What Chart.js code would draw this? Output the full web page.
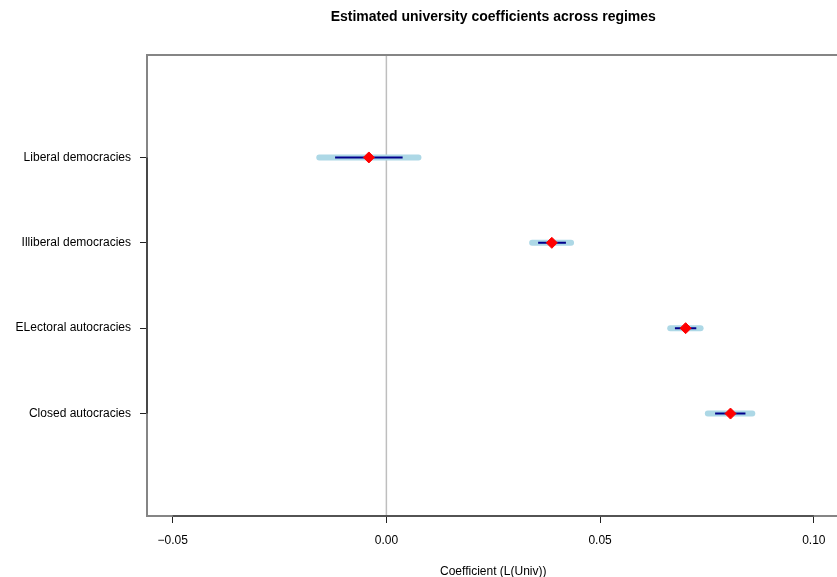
<!DOCTYPE html>
<html>
<head>
<meta charset="utf-8">
<title>Estimated university coefficients across regimes</title>
<script src="https://cdn.jsdelivr.net/npm/chart.js@4.4.1/dist/chart.umd.min.js"></script>
<style>
  html, body { margin: 0; padding: 0; background: #fff; overflow: hidden; }
  canvas { display: block; }
</style>
</head>
<body>
<canvas id="coefChart" width="846" height="577"></canvas>
<script>
// Regimes listed top to bottom
const regimes = ['Liberal democracies', 'Illiberal democracies', 'ELectoral autocracies', 'Closed autocracies'];
const estimates = [-0.0041, 0.0387, 0.0700, 0.0805];
// wide interval (light band) and narrow interval (dark line)
const wideLow = [-0.0157, 0.0341, 0.0664, 0.0752];
const wideHigh = [0.0075, 0.0432, 0.0735, 0.0856];
const narrowLow = [-0.0120, 0.0355, 0.0675, 0.0769];
const narrowHigh = [0.0038, 0.0420, 0.0725, 0.0840];
const xTicks = [-0.05, 0, 0.05, 0.10];

const FONT = '"Liberation Sans", Arial, Helvetica, sans-serif';
const rowPos = regimes.map((r, i) => regimes.length - i);

// order: lower value is drawn on top
const intervalSet = (lo, hi, color, width, cap, order) => regimes.map((r, i) => ({
    data: [{ x: lo[i], y: rowPos[i] }, { x: hi[i], y: rowPos[i] }],
    showLine: true,
    borderColor: color,
    borderWidth: width,
    borderCapStyle: cap,
    pointRadius: 0,
    order: order
}));

// grey box, zero line, axis lines and main title
const frame = {
    id: 'frame',
    beforeDatasetsDraw(chart) {
        const { ctx, chartArea: a, scales: { x, y } } = chart;
        ctx.save();
        const x0 = x.getPixelForValue(0);
        ctx.strokeStyle = '#bebebe';
        ctx.lineWidth = 1.5;
        ctx.beginPath();
        ctx.moveTo(x0, a.top);
        ctx.lineTo(x0, a.bottom);
        ctx.stroke();

        ctx.strokeStyle = '#858585';
        ctx.lineWidth = 2;
        ctx.beginPath();
        ctx.moveTo(a.right + 2, a.top);
        ctx.lineTo(a.left, a.top);
        ctx.lineTo(a.left, a.bottom);
        ctx.lineTo(a.right + 2, a.bottom);
        ctx.stroke();

        ctx.strokeStyle = '#222';
        ctx.lineWidth = 1.2;
        ctx.beginPath();
        ctx.moveTo(x.getPixelForValue(xTicks[0]), a.bottom);
        ctx.lineTo(x.getPixelForValue(xTicks[xTicks.length - 1]), a.bottom);
        ctx.moveTo(a.left, y.getPixelForValue(rowPos[0]));
        ctx.lineTo(a.left, y.getPixelForValue(rowPos[rowPos.length - 1]));
        ctx.stroke();
        ctx.restore();
    },
    afterDraw(chart) {
        const { ctx, chartArea: a } = chart;
        ctx.save();
        ctx.fillStyle = '#000';
        ctx.font = 'bold 14px ' + FONT;
        ctx.textAlign = 'center';
        ctx.textBaseline = 'middle';
        ctx.fillText('Estimated university coefficients across regimes', (a.left + a.right) / 2, 17);
        ctx.restore();
    }
};

new Chart(document.getElementById('coefChart').getContext('2d'), {
    type: 'scatter',
    data: {
        datasets: [
            {
                data: estimates.map((v, i) => ({ x: v, y: rowPos[i] })),
                pointStyle: 'rectRot',
                pointRadius: 5.5,
                pointBackgroundColor: '#ff0000',
                pointBorderColor: '#ff0000',
                pointBorderWidth: 1,
                order: 0
            },
            ...intervalSet(narrowLow, narrowHigh, '#00008b', 2, 'butt', 1),
            ...intervalSet(wideLow, wideHigh, '#add8e6', 6, 'round', 2)
        ]
    },
    options: {
        responsive: false,
        animation: false,
        devicePixelRatio: 1,
        layout: { padding: { top: 55, right: 2, bottom: 0, left: 0 } },
        plugins: { legend: { display: false }, tooltip: { enabled: false } },
        scales: {
            x: {
                type: 'linear',
                min: -0.056,
                max: 0.106,
                afterFit: s => { s.height = 61; },
                afterBuildTicks: s => { s.ticks = xTicks.map(v => ({ value: v })); },
                border: { display: false },
                grid: { drawOnChartArea: false, drawTicks: true, tickLength: 7, color: '#222', lineWidth: 1 },
                ticks: {
                    padding: 10,
                    color: '#000',
                    font: { family: FONT, size: 12 },
                    callback: v => (v < 0 ? '\u2212' : '') + Math.abs(v).toFixed(2)
                },
                title: {
                    display: true,
                    text: 'Coefficient (L(Univ))',
                    color: '#000',
                    font: { family: FONT, size: 12 },
                    padding: { top: 0, bottom: -2 }
                }
            },
            y: {
                type: 'linear',
                min: -0.2,
                max: 5.2,
                afterFit: s => { s.width = 147; },
                afterBuildTicks: s => { s.ticks = rowPos.map(v => ({ value: v })); },
                border: { display: false },
                grid: { drawOnChartArea: false, drawTicks: true, tickLength: 7, color: '#222', lineWidth: 1 },
                ticks: {
                    padding: 9,
                    color: '#000',
                    font: { family: FONT, size: 12 },
                    callback: v => regimes[regimes.length - v]
                }
            }
        }
    },
    plugins: [frame]
});
</script>
</body>
</html>
